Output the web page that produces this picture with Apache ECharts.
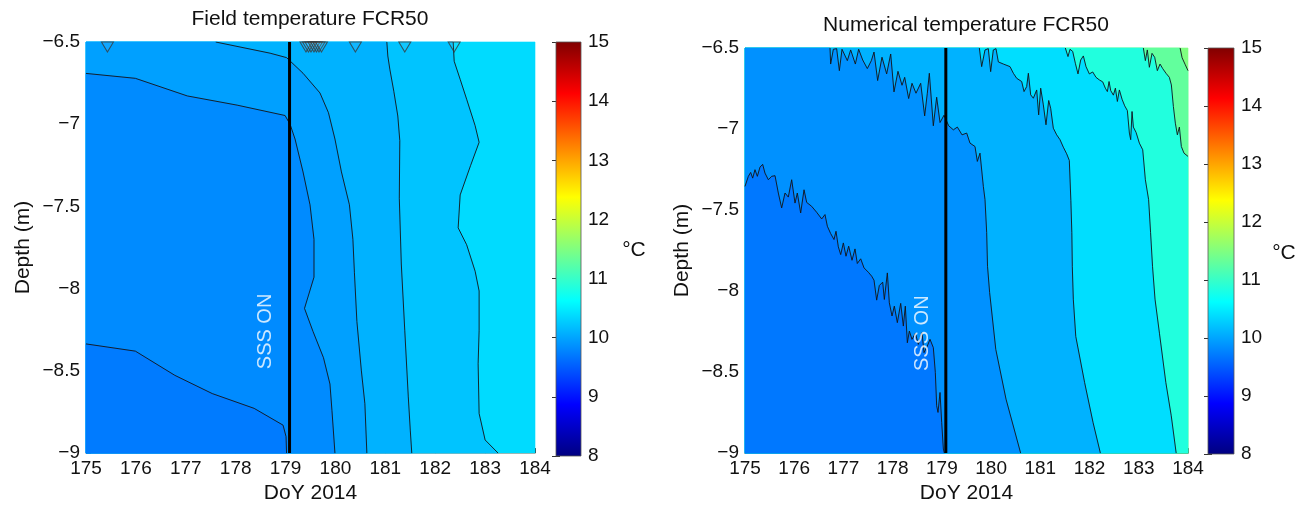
<!DOCTYPE html>
<html><head><meta charset="utf-8">
<script src="https://cdn.jsdelivr.net/npm/echarts@6/dist/echarts.min.js"></script>
<style>html,body{margin:0;padding:0;background:#fff}#c{width:1301px;height:509px}</style>
</head><body><div id="c"></div>
<script>
// ---------- axes ----------
const X_MIN = 175, X_MAX = 184, X_STEP = 1;
const Y_MIN = -9, Y_MAX = -6.5, Y_STEP = 0.5;
const CB_MIN = 8, CB_MAX = 15, CB_STEP = 1;
const SSS_DAY = 179.08;
const SSS_LABEL_POS = [178.6, -8.26];
const fieldMarkerDays = [175.43, 179.41, 179.46, 179.51, 179.57, 179.62, 179.67, 179.72, 180.40, 181.39, 182.38];

// ---------- Field panel contour lines (cold -> warm) ----------
const fieldLineA = [[175,-8.336],[175.99,-8.38],[176.78,-8.527],[177.53,-8.638],[178.37,-8.728],[178.95,-8.83],[179.01,-8.9],[179.02,-9.0]];
const fieldLineB = [[175,-6.691],[175.99,-6.721],[177.03,-6.828],[178.03,-6.884],[178.99,-6.947],[179.09,-7.0],[179.19,-7.09],[179.35,-7.29],[179.49,-7.49],[179.57,-7.70],[179.57,-7.93],[179.38,-8.12],[179.55,-8.26],[179.76,-8.42],[179.89,-8.58],[179.93,-8.74],[179.99,-9.0]];
const fieldLineC = [[177.6,-6.5],[178.69,-6.568],[179.02,-6.595],[179.35,-6.69],[179.69,-6.81],[179.86,-6.93],[179.99,-7.09],[180.12,-7.29],[180.28,-7.49],[180.35,-7.70],[180.38,-7.90],[180.43,-8.20],[180.52,-8.50],[180.59,-8.70],[180.63,-9.0]];
const fieldLineD = [[181.03,-6.5],[181.05,-6.585],[181.09,-6.665],[181.17,-6.8],[181.25,-6.95],[181.29,-7.1],[181.28,-7.45],[181.32,-7.85],[181.39,-8.256],[181.46,-8.658],[181.50,-8.86],[181.53,-9.0]];
const fieldLineE = [[182.36,-6.5],[182.38,-6.617],[182.50,-6.727],[182.63,-6.848],[182.80,-7.009],[182.88,-7.11],[182.71,-7.25],[182.50,-7.43],[182.46,-7.63],[182.63,-7.733],[182.80,-7.894],[182.88,-8.014],[182.88,-8.256],[182.86,-8.457],[182.88,-8.759],[183.0,-8.92],[183.26,-9.0]];
const fieldLines = [fieldLineA, fieldLineB, fieldLineC, fieldLineD, fieldLineE];
const fieldBandTemps = [9.72, 9.83, 9.97, 10.1, 10.22, 10.38];

// ---------- Numerical panel contour lines (cold -> warm) ----------
const numLine1 = [[175,-7.354],[175.068,-7.292],[175.115,-7.268],[175.156,-7.303],[175.203,-7.251],[175.251,-7.292],[175.305,-7.235],[175.359,-7.218],[175.406,-7.272],[175.474,-7.313],[175.542,-7.292],[175.61,-7.288],[175.677,-7.395],[175.745,-7.487],[175.813,-7.395],[175.88,-7.42],[175.948,-7.313],[176.016,-7.457],[176.063,-7.395],[176.131,-7.518],[176.199,-7.375],[176.253,-7.453],[176.354,-7.477],[176.456,-7.514],[176.558,-7.555],[176.625,-7.528],[176.673,-7.6],[176.74,-7.645],[176.808,-7.682],[176.849,-7.631],[176.896,-7.727],[176.944,-7.775],[176.998,-7.703],[177.052,-7.785],[177.106,-7.723],[177.174,-7.81],[177.235,-7.74],[177.282,-7.83],[177.35,-7.801],[177.418,-7.857],[177.506,-7.884],[177.573,-7.908],[177.621,-7.933],[177.675,-8.056],[177.729,-7.966],[177.797,-7.945],[177.831,-8.052],[177.892,-7.888],[177.932,-8.072],[177.987,-8.154],[178.034,-8.093],[178.095,-8.195],[178.163,-8.076],[178.217,-8.216],[178.257,-8.093],[178.298,-8.319],[178.339,-8.247],[178.393,-8.298],[178.461,-8.261],[178.522,-8.329],[178.596,-8.257],[178.637,-8.38],[178.704,-8.339],[178.759,-8.298],[178.826,-8.349],[178.867,-8.503],[178.894,-8.708],[178.921,-8.749],[178.962,-8.626],[178.996,-8.811],[179.03,-8.975],[179.05,-9.0]];
const numLine2 = [[176.727,-6.5],[176.74,-6.599],[176.795,-6.508],[176.862,-6.504],[176.917,-6.64],[176.971,-6.508],[177.079,-6.578],[177.147,-6.512],[177.242,-6.599],[177.309,-6.508],[177.391,-6.574],[177.485,-6.627],[177.567,-6.578],[177.621,-6.525],[177.695,-6.701],[177.783,-6.557],[177.878,-6.66],[177.96,-6.537],[178.027,-6.771],[178.108,-6.644],[178.19,-6.73],[178.244,-6.681],[178.325,-6.812],[178.393,-6.718],[178.474,-6.779],[178.569,-6.718],[178.65,-6.919],[178.704,-6.779],[178.745,-6.656],[178.826,-6.98],[178.894,-6.804],[178.962,-6.96],[179.043,-6.915],[179.138,-6.98],[179.233,-7.005],[179.314,-6.988],[179.409,-7.036],[179.504,-7.025],[179.571,-7.087],[179.673,-7.108],[179.72,-7.2],[179.774,-7.149],[179.842,-7.354],[179.876,-7.436],[179.91,-7.639],[179.927,-7.847],[179.97,-8.009],[180.095,-8.36],[180.303,-8.667],[180.6,-9.0]];
const numLine3 = [[179.761,-6.5],[179.808,-6.615],[179.876,-6.512],[179.943,-6.504],[179.991,-6.646],[180.045,-6.512],[180.099,-6.504],[180.147,-6.586],[180.249,-6.599],[180.384,-6.615],[180.452,-6.656],[180.52,-6.687],[180.621,-6.707],[180.669,-6.769],[180.723,-6.738],[180.757,-6.656],[180.804,-6.789],[180.858,-6.81],[180.926,-6.759],[180.966,-6.913],[181.007,-6.748],[181.061,-6.851],[181.115,-6.974],[181.17,-6.824],[181.21,-6.872],[181.264,-6.995],[181.332,-7.036],[181.4,-7.066],[181.467,-7.112],[181.535,-7.153],[181.589,-7.194],[181.62,-7.44],[181.64,-7.64],[181.65,-7.85],[181.67,-8.05],[181.72,-8.28],[181.9,-8.565],[182.07,-8.81],[182.22,-9.0]];
const numLine4 = [[181.508,-6.5],[181.562,-6.553],[181.603,-6.508],[181.657,-6.521],[181.711,-6.594],[181.765,-6.66],[181.82,-6.574],[181.874,-6.549],[181.928,-6.615],[181.996,-6.66],[182.064,-6.648],[182.131,-6.681],[182.199,-6.697],[182.267,-6.709],[182.321,-6.748],[182.362,-6.769],[182.396,-6.707],[182.43,-6.763],[182.484,-6.791],[182.525,-6.748],[182.565,-6.83],[182.606,-6.759],[182.66,-6.816],[182.714,-6.857],[182.768,-6.886],[182.809,-7.025],[182.836,-7.066],[182.863,-6.892],[182.89,-6.988],[182.945,-7.021],[183.012,-7.087],[183.08,-7.128],[183.134,-7.313],[183.2,-7.436],[183.24,-7.64],[183.28,-7.85],[183.33,-8.05],[183.42,-8.26],[183.55,-8.565],[183.66,-8.77],[183.76,-9.0]];
const numLine5 = [[183.093,-6.5],[183.134,-6.578],[183.174,-6.512],[183.215,-6.619],[183.269,-6.533],[183.323,-6.557],[183.377,-6.64],[183.432,-6.599],[183.486,-6.627],[183.553,-6.656],[183.621,-6.681],[183.662,-6.728],[183.703,-6.861],[183.743,-6.964],[183.784,-7.036],[183.825,-6.988],[183.865,-7.108],[183.919,-7.149],[184.0,-7.169]];
const numLine6 = [[183.84,-6.5],[183.88,-6.56],[183.94,-6.6],[184.0,-6.64]];
const numLines = [numLine1, numLine2, numLine3, numLine4, numLine5, numLine6];
const numBandTemps = [9.70, 9.87, 10.1, 10.4, 10.85, 11.3, 11.5];

// ---------- helpers ----------
function jet(v) {
  const t = (v - CB_MIN) / (CB_MAX - CB_MIN);
  const c = x => Math.round(255 * Math.max(0, Math.min(1, x)));
  return 'rgb(' + c(1.5 - Math.abs(4*t - 3)) + ',' + c(1.5 - Math.abs(4*t - 2)) + ',' + c(1.5 - Math.abs(4*t - 1)) + ')';
}
function coldRegion(line) {
  const pts = line.slice();
  const s = line[0], e = line[line.length - 1];
  if (e[0] >= X_MAX) pts.push([X_MAX, Y_MIN]);
  pts.push([X_MIN, Y_MIN]);
  if (s[1] >= Y_MAX && s[0] > X_MIN) pts.push([X_MIN, Y_MAX]);
  return pts;
}
function bandSeries(ax, lines, temps) {
  const items = [{poly: [[X_MIN, Y_MIN],[X_MAX, Y_MIN],[X_MAX, Y_MAX],[X_MIN, Y_MAX]], temp: temps[temps.length - 1]}];
  for (let k = lines.length - 1; k >= 0; k--) items.push({poly: coldRegion(lines[k]), temp: temps[k]});
  return {
    type: 'custom', xAxisIndex: ax, yAxisIndex: ax === 0 ? 0 : 3, silent: true, z: 1,
    data: items.map(it => it.poly[0]),
    renderItem: function (params, api) {
      const it = items[params.dataIndex];
      const col = jet(it.temp);
      return {type: 'polygon', shape: {points: it.poly.map(p => api.coord(p))}, style: {fill: col, stroke: col, lineWidth: 0.6}};
    }
  };
}
function lineSeries(ax, line) {
  return {type: 'line', xAxisIndex: ax, yAxisIndex: ax === 0 ? 0 : 3, data: line, symbol: 'none', silent: true, z: 3,
    lineStyle: {color: '#141414', width: 0.9}};
}
const FONT = 'Liberation Sans';
const TICK_FS = 19, NAME_FS = 21;
const minus = v => String(v).replace('-', '\u2212');
function mainX(idx, gridIdx, lineColor) {
  return {type: 'value', gridIndex: gridIdx, min: X_MIN, max: X_MAX, interval: X_STEP,
    name: 'DoY 2014', nameLocation: 'middle', nameGap: 29,
    nameTextStyle: {fontSize: NAME_FS, fontFamily: FONT, color: '#111'},
    axisLine: {show: true, onZero: false, lineStyle: {color: lineColor, width: 1}},
    axisTick: {show: true, inside: true, length: 5, lineStyle: {color: '#333'}},
    axisLabel: {fontSize: TICK_FS, fontFamily: FONT, color: '#111', margin: 6},
    splitLine: {show: false}};
}
function mainY(gridIdx, lineShow) {
  return {type: 'value', gridIndex: gridIdx, min: Y_MIN, max: Y_MAX, interval: Y_STEP,
    name: 'Depth (m)', nameLocation: 'middle', nameGap: 52, nameRotate: 90,
    nameTextStyle: {fontSize: NAME_FS, fontFamily: FONT, color: '#111'},
    axisLine: {show: lineShow, onZero: false, lineStyle: {color: '#777', width: 1}},
    axisTick: {show: true, inside: true, length: 5, lineStyle: {color: '#333'}},
    axisLabel: {fontSize: TICK_FS, fontFamily: FONT, color: '#111', margin: 6, formatter: minus},
    splitLine: {show: false}};
}
function cbX(gridIdx) {
  return {type: 'value', gridIndex: gridIdx, min: 0, max: 1, show: false};
}
function cbY(gridIdx, pos, labels) {
  return {type: 'value', gridIndex: gridIdx, min: CB_MIN, max: CB_MAX, interval: CB_STEP, position: pos,
    axisLine: {show: false},
    axisTick: {show: true, inside: true, length: 4, lineStyle: {color: '#333'}},
    axisLabel: {show: labels, fontSize: TICK_FS, fontFamily: FONT, color: '#111', margin: 7},
    splitLine: {show: false}};
}
function cbSeries(ax, yIdx) {
  const stops = [];
  for (let i = 0; i <= 8; i++) stops.push({offset: i / 8, color: jet(CB_MIN + (CB_MAX - CB_MIN) * i / 8)});
  return {type: 'custom', xAxisIndex: ax, yAxisIndex: yIdx, silent: true, data: [[0, CB_MIN]],
    renderItem: function (params, api) {
      const p0 = api.coord([0, CB_MAX]), p1 = api.coord([1, CB_MIN]);
      return {type: 'rect', shape: {x: p0[0], y: p0[1], width: p1[0] - p0[0], height: p1[1] - p0[1]},
        style: {fill: new echarts.graphic.LinearGradient(0, 1, 0, 0, stops), stroke: '#555', lineWidth: 0.8}};
    }};
}
function sssSeries(ax) {
  const yi = ax === 0 ? 0 : 3;
  return [
    {type: 'line', xAxisIndex: ax, yAxisIndex: yi, data: [[SSS_DAY, Y_MIN], [SSS_DAY, Y_MAX]], symbol: 'none', silent: true, z: 4,
      lineStyle: {color: '#000', width: 3}},
    {type: 'scatter', xAxisIndex: ax, yAxisIndex: yi, data: [SSS_LABEL_POS], symbolSize: 0, silent: true, z: 5,
      label: {show: true, position: 'inside', formatter: 'SSS ON', rotate: 90, color: '#fff', fontSize: 20, fontFamily: FONT}}
  ];
}

const chart = echarts.init(document.getElementById('c'), null, {renderer: 'canvas'});
const series = [];
series.push(bandSeries(0, fieldLines, fieldBandTemps));
fieldLines.forEach(l => series.push(lineSeries(0, l)));
series.push(...sssSeries(0));
series.push({type: 'scatter', xAxisIndex: 0, yAxisIndex: 0, data: fieldMarkerDays.map(d => [d, Y_MAX]), clip: false, silent: true, z: 6,
  symbol: 'triangle', symbolRotate: 180, symbolSize: [12, 10], symbolOffset: [0, 5],
  itemStyle: {color: 'rgba(255,255,255,0.08)', borderColor: '#3a3a3a', borderWidth: 1}});
series.push(cbSeries(1, 1));
series.push(bandSeries(2, numLines, numBandTemps));
numLines.forEach(l => series.push(lineSeries(2, l)));
series.push(...sssSeries(2));
series.push(cbSeries(3, 4));

chart.setOption({
  animation: false,
  backgroundColor: '#fff',
  grid: [
    {left: 86, top: 42, width: 449, height: 414},
    {left: 556, top: 42, width: 25, height: 414},
    {left: 745, top: 48, width: 443, height: 406},
    {left: 1208, top: 48, width: 26, height: 406}
  ],
  xAxis: [mainX(0, 0, '#E9A58C'), cbX(1), mainX(2, 2, '#555'), cbX(3)],
  yAxis: [mainY(0, false), cbY(1, 'right', true), cbY(1, 'left', false), mainY(2, true), cbY(3, 'right', true), cbY(3, 'left', false)],
  graphic: [
    {type: 'text', x: 310, y: 19, style: {text: 'Field temperature FCR50', fontSize: 21, fontFamily: FONT, fill: '#111', align: 'center', verticalAlign: 'middle'}},
    {type: 'text', x: 966, y: 25, style: {text: 'Numerical temperature FCR50', fontSize: 21, fontFamily: FONT, fill: '#111', align: 'center', verticalAlign: 'middle'}},
    {type: 'text', x: 634, y: 250, style: {text: '°C', fontSize: 21, fontFamily: FONT, fill: '#111', align: 'center', verticalAlign: 'middle'}},
    {type: 'text', x: 1284, y: 253, style: {text: '°C', fontSize: 21, fontFamily: FONT, fill: '#111', align: 'center', verticalAlign: 'middle'}}
  ],
  series: series
});
</script></body></html>
